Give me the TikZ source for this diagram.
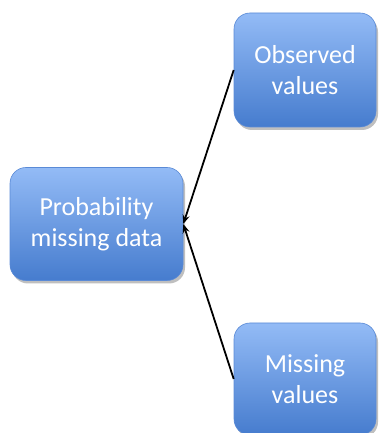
\documentclass[tikz,border=0pt]{standalone}
\usepackage{fontspec}
\setmainfont{Carlito}
\usetikzlibrary{arrows.meta,shadows}
\definecolor{boxtop}{HTML}{93BBF6}
\definecolor{boxbot}{HTML}{467CCE}
\definecolor{boxedge}{HTML}{5A8AD6}
\tikzset{
  box/.style={rectangle, rounded corners=16pt, draw=boxedge, line width=0.6pt,
    top color=boxtop, bottom color=boxbot, text=white, align=center,
    font=\fontsize{26}{31}\selectfont, inner sep=0pt,
    drop shadow={shadow xshift=2pt, shadow yshift=-3pt, opacity=0.25, fill=black}},
  link/.style={-{Stealth[length=9pt,width=7pt]}, line width=1.8pt, black}
}
\begin{document}
\begin{tikzpicture}[x=1pt,y=1pt]
  \useasboundingbox (0,0) rectangle (378,433);
  \node[box, minimum width=173pt, minimum height=113pt] (prob) at (96.5,209) {Probability\\missing data};
  \node[box, minimum width=142pt, minimum height=114pt] (obs) at (305,363) {Observed\\values};
  \node[box, minimum width=142pt, minimum height=112pt] (miss) at (305,54) {Missing\\values};
  \draw[link] (obs.west) -- (prob.east);
  \draw[link] (miss.west) -- (prob.east);
\end{tikzpicture}
\end{document}
